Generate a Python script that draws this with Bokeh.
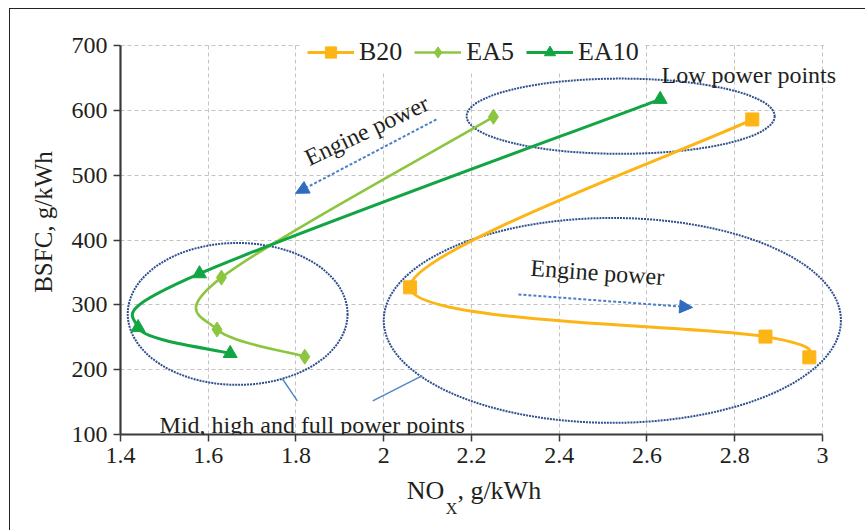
import numpy as np
from bokeh.plotting import figure
from bokeh.models import (Legend, LegendItem, Label, Arrow, NormalHead, BoxAnnotation,
                          FixedTicker, Range1d, LinearAxis)
from bokeh.embed import file_html
from bokeh.resources import INLINE

# ---------------- data ----------------
b20_nox = [2.84, 2.06, 2.87, 2.97]
b20_bsfc = [586, 327, 251, 219]
ea5_nox = [2.25, 1.63, 1.62, 1.82]
ea5_bsfc = [590, 342, 262, 220]
ea10_nox = [2.63, 1.58, 1.44, 1.65]
ea10_bsfc = [617, 348, 265, 225]

series_names = ["B20", "EA5", "EA10"]

x_ticks = [1.4, 1.6, 1.8, 2.0, 2.2, 2.4, 2.6, 2.8, 3.0]
x_tick_labels = ["1.4", "1.6", "1.8", "2", "2.2", "2.4", "2.6", "2.8", "3"]
y_ticks = [100, 200, 300, 400, 500, 600, 700]

FONT = "Liberation Serif"
TXT = "#231f20"
NB = "\u00a0"


def smooth_segments(xs, ys):
    """Bezier control points for a smoothed line through the given points."""
    n = len(xs)
    out = dict(x0=[], y0=[], x1=[], y1=[], cx0=[], cy0=[], cx1=[], cy1=[])
    for i in range(n - 1):
        im = max(i - 1, 0)
        ip2 = min(i + 2, n - 1)
        out["x0"].append(xs[i]); out["y0"].append(ys[i])
        out["x1"].append(xs[i + 1]); out["y1"].append(ys[i + 1])
        out["cx0"].append(xs[i] + (xs[i + 1] - xs[im]) / 6.0)
        out["cy0"].append(ys[i] + (ys[i + 1] - ys[im]) / 6.0)
        out["cx1"].append(xs[i + 1] - (xs[ip2] - xs[i]) / 6.0)
        out["cy1"].append(ys[i + 1] - (ys[ip2] - ys[i]) / 6.0)
    return out


# frame is extended to the top and right edges of the canvas so that the legend and
# the "Low power points" text are not clipped; axis lines are bounded to the data box
p = figure(width=856, height=522, x_range=Range1d(1.4, 3.1003), y_range=Range1d(100, 755.6),
           output_backend="svg", toolbar_location=None,
           min_border_left=110, min_border_right=0, min_border_top=0, min_border_bottom=97,
           styles={"margin-left": "9px", "margin-top": "8px",
                   "border-left": "1px solid #222222", "border-top": "1px solid #222222"})
p.title.visible = False
p.outline_line_color = None
p.background_fill_color = "white"
p.border_fill_color = "white"

# grid
p.xgrid.ticker = FixedTicker(ticks=x_ticks)
p.ygrid.ticker = FixedTicker(ticks=y_ticks)
for g in (p.xgrid, p.ygrid):
    g.grid_line_color = "#c4c4c4"
    g.grid_line_dash = "4 3"
    g.grid_line_width = 1

# white-out the extended frame outside the data box (above 700 and right of 3)
p.add_layout(BoxAnnotation(bottom=701.2, fill_color="white", fill_alpha=1,
                           line_alpha=0, level="underlay"))
p.add_layout(BoxAnnotation(left=3.003, fill_color="white", fill_alpha=1,
                           line_alpha=0, level="underlay"))

# axes
p.xaxis.ticker = FixedTicker(ticks=x_ticks)
p.xaxis.major_label_overrides = dict(zip(x_ticks, x_tick_labels))
p.xaxis.bounds = (1.4, 3.0)
p.yaxis.ticker = FixedTicker(ticks=y_ticks)
p.yaxis.bounds = (100, 700)
for ax in (p.xaxis, p.yaxis):
    ax.axis_line_color = "#3a3a3a"
    ax.axis_line_width = 2.2
    ax.major_tick_line_color = "#3a3a3a"
    ax.major_tick_line_width = 1.5
    ax.major_tick_out = 7
    ax.major_tick_in = 0
    ax.minor_tick_line_color = None
    ax.major_label_text_font = FONT
    ax.major_label_text_font_size = "24px"
    ax.major_label_text_color = TXT
p.xaxis.major_label_standoff = 6
p.yaxis.major_label_standoff = 6
p.yaxis.axis_label = "BSFC, g/kWh"
p.yaxis.axis_label_text_font = FONT
p.yaxis.axis_label_text_font_size = "25px"
p.yaxis.axis_label_text_font_style = "normal"
p.yaxis.axis_label_text_color = TXT
p.yaxis.axis_label_standoff = 12

# x axis title "NO_X, g/kWh": two label-only axes stacked below the main one
def label_axis(text, size, standoff):
    a = LinearAxis(ticker=FixedTicker(ticks=[]),
                   axis_line_color=None, major_tick_out=0, major_tick_in=0,
                   minor_tick_out=0, minor_tick_in=0, major_label_standoff=0,
                   axis_label=text, axis_label_text_font=FONT,
                   axis_label_text_font_size=size, axis_label_text_font_style="normal",
                   axis_label_text_color=TXT, axis_label_standoff=standoff)
    p.add_layout(a, "below")
    return a

label_axis("NO" + NB * 2 + ", g/kWh" + NB * 6, "26px", 10)
label_axis("X" + NB * 21, "16px", -8)

# ellipses (annotation regions)
ell_col = "#2f4f8f"
p.ellipse(x=[1.667, 2.521, 2.540], y=[286, 276, 591], width=[0.501, 1.042, 0.702],
          height=[219, 316, 116], fill_alpha=0, line_color=ell_col, line_width=2,
          line_dash="2 1")

# leader lines
p.segment(x0=[1.769, 2.088], y0=[186, 191], x1=[1.803, 1.975], y1=[152, 152],
          line_color="#4f86c6", line_width=1.4)

# arrows
for xs_, ys_, xe_, ye_ in [(2.120, 586, 1.799, 472), (2.307, 316, 2.704, 296)]:
    p.add_layout(Arrow(end=NormalHead(size=13, fill_color="#2f6cc0", line_color="#2f6cc0"),
                       x_start=xs_, y_start=ys_, x_end=xe_, y_end=ye_,
                       line_color="#4a7fc8", line_width=2, line_dash="3 2"))

# series
colors = ["#fdb515", "#8cc63f", "#12a543"]
markers = ["square", "diamond", "triangle"]
sizes = [13, 15, 14]
widths = [3, 2.6, 3]
data = [(b20_nox, b20_bsfc), (ea5_nox, ea5_bsfc), (ea10_nox, ea10_bsfc)]
items = []
for name, (xs, ys), c, m, s, w in zip(series_names, data, colors, markers, sizes, widths):
    seg = smooth_segments(xs, ys)
    bz = p.bezier(x0=seg["x0"], y0=seg["y0"], x1=seg["x1"], y1=seg["y1"],
                  cx0=seg["cx0"], cy0=seg["cy0"], cx1=seg["cx1"], cy1=seg["cy1"],
                  line_color=c, line_width=w)
    sc = p.scatter(x=xs, y=ys, marker=m, size=s, fill_color=c, line_color=c)
    items.append(LegendItem(label=name, renderers=[bz, sc]))

legend = Legend(items=items, orientation="horizontal", location=(181, 361),
                glyph_width=47, glyph_height=28, label_standoff=5, spacing=12,
                padding=6, margin=0, border_line_alpha=0, background_fill_color="white",
                background_fill_alpha=1, label_text_font=FONT, label_text_font_size="26px",
                label_text_color=TXT)
p.add_layout(legend)

# text annotations
def lab(x, y, text, size="24px", angle=0.0, align="left", baseline="alphabetic"):
    p.add_layout(Label(x=x, y=y, text=text, text_font=FONT, text_font_size=size,
                       text_color=TXT, angle=angle, text_align=align,
                       text_baseline=baseline))

lab(2.633, 654, "Low power points")
lab(1.489, 114, "Mid, high and full power points")
lab(1.961, 569, "Engine power", angle=0.44, align="center", baseline="middle")
lab(2.487, 350, "Engine power", angle=-0.07, align="center", baseline="middle")

open("out.html", "w").write(file_html(p, INLINE))
